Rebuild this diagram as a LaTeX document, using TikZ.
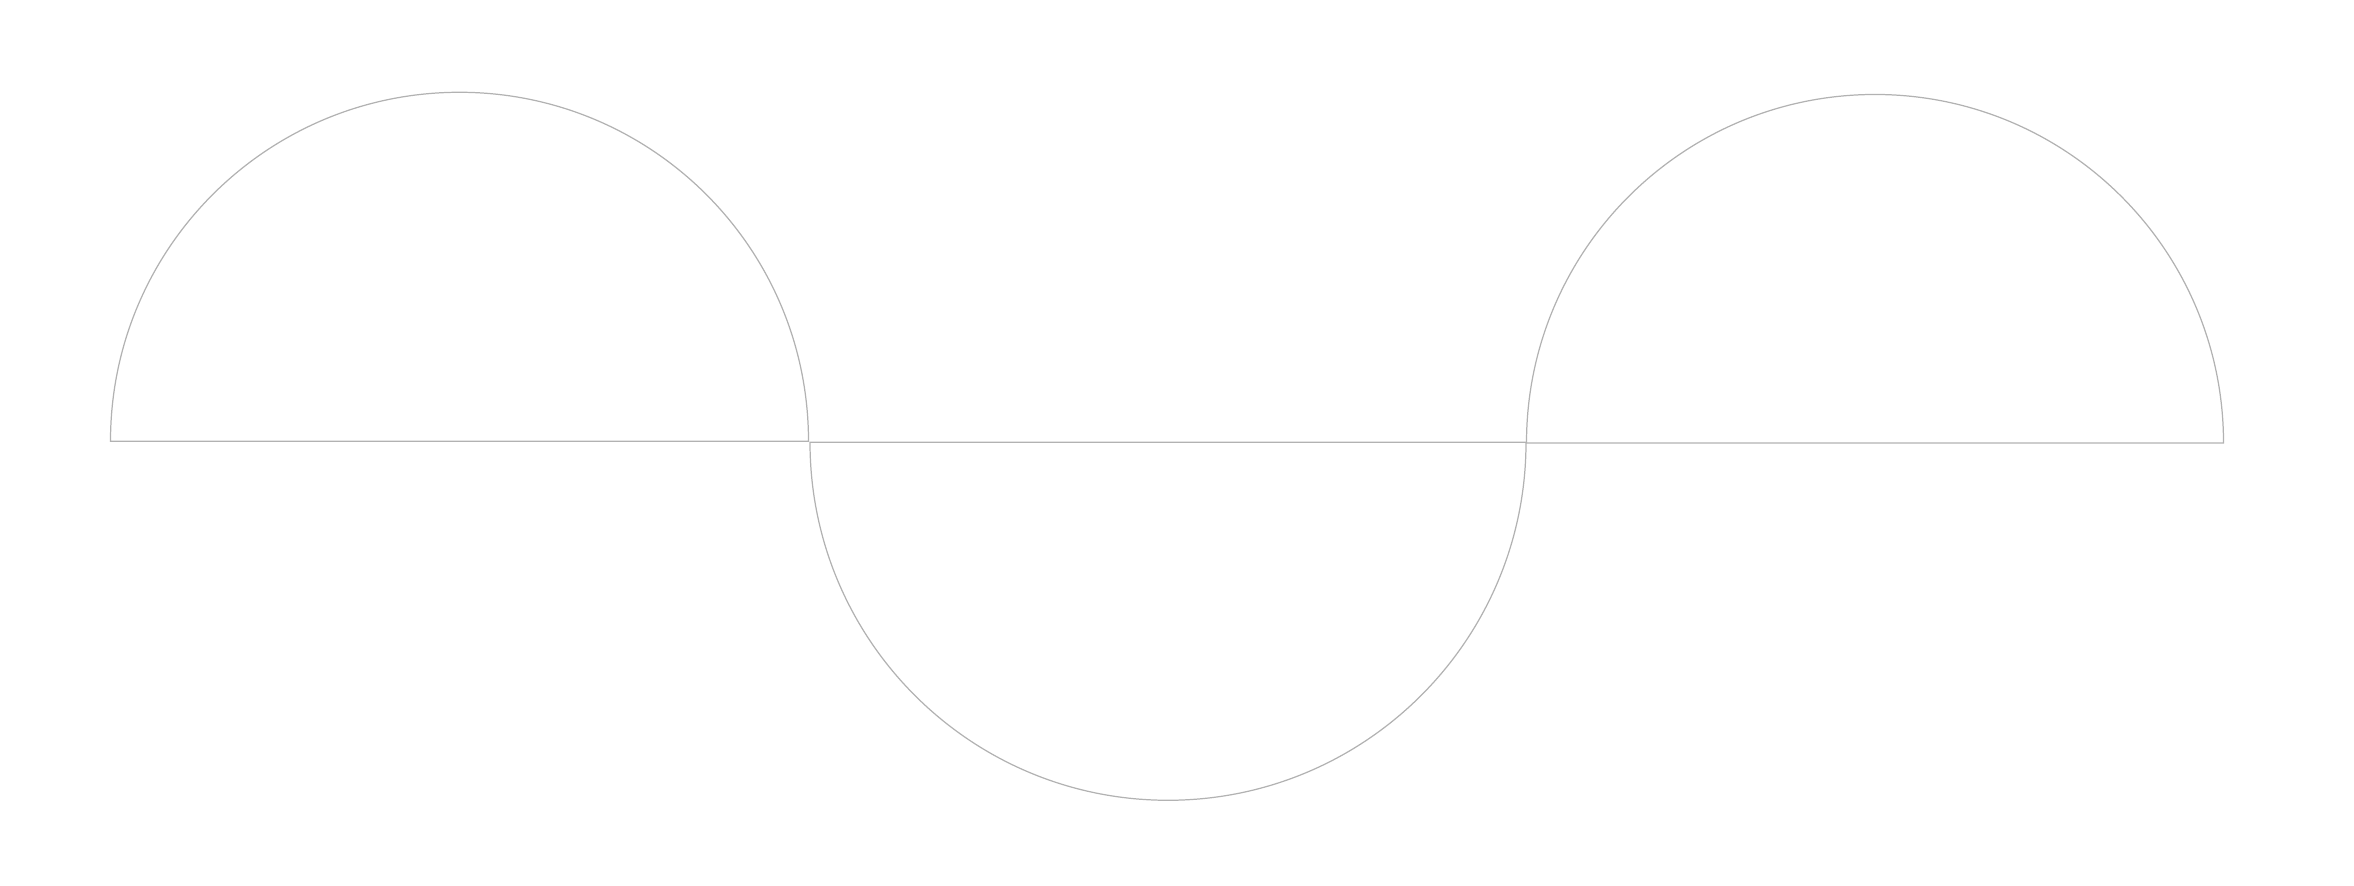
\documentclass[tikz,border=0pt]{standalone}
\usepackage{amsmath,amssymb}
\usepackage{tikz}
\usetikzlibrary{calc}
\newcommand{\halfup}[3]{\draw[wave] ( #1 - #3 , #2 ) arc[start angle=180, end angle=0, radius=#3] -- cycle;}
\newcommand{\halfdown}[3]{\draw[wave] ( #1 - #3 , #2 ) arc[start angle=180, end angle=360, radius=#3] -- cycle;}

\begin{document}
\begin{tikzpicture}[x=0.01cm, y=0.01cm, wave/.style={draw=black!30, line width=0.35pt}]
        \useasboundingbox (0,0) rectangle (2354,886);
        % crest 1
        \halfup{459.5}{444.7}{349}
        % trough
        \halfdown{1168}{443.7}{358}
        % crest 2
        \halfup{1875}{443}{348.5}
    \end{tikzpicture}
\end{document}
